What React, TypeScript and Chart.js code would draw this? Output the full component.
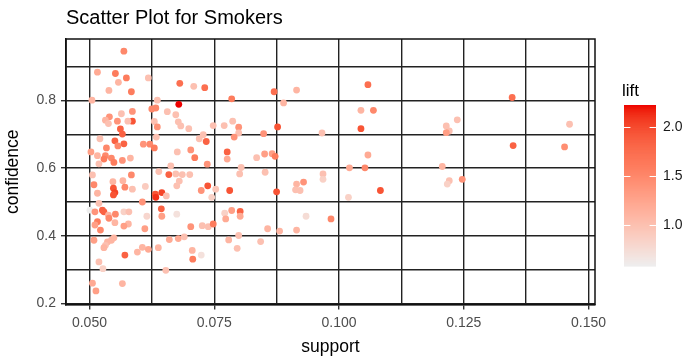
import React, { useEffect, useRef } from 'react';
import { Chart, registerables } from 'chart.js';

Chart.register(...registerables);

// ---- data ----
const SUPPORT: number[] = [
  0.1058, 0.1044, 0.1069, 0.1044, 0.1058, 0.1021, 0.1052, 0.1083, 0.1019, 0.0984,
  0.1237, 0.1215, 0.1221, 0.1215, 0.1207, 0.1221, 0.1217, 0.1247, 0.1347, 0.1349,
  0.1462, 0.1452, 0.0731, 0.0870, 0.0915, 0.0785, 0.0889, 0.0748, 0.0770, 0.0787,
  0.0799, 0.0799, 0.0790, 0.0728, 0.0734, 0.0849, 0.0877, 0.0966, 0.0776, 0.0776,
  0.0851, 0.0866, 0.0872, 0.0835, 0.0736, 0.0804, 0.0801, 0.0852, 0.0737, 0.0753,
  0.0724, 0.0745, 0.0781, 0.0875, 0.0915, 0.0929, 0.0913, 0.0922, 0.0968, 0.0968,
  0.0771, 0.0785, 0.0802, 0.0802, 0.0773, 0.0934, 0.0726, 0.0738, 0.0748, 0.0857,
  0.0881, 0.0915, 0.0779, 0.0799, 0.0843, 0.0796, 0.0724, 0.0720, 0.0618, 0.0681,
  0.0709, 0.0636, 0.0679, 0.0633, 0.0625, 0.0656, 0.0673, 0.0630, 0.0636, 0.0678,
  0.0683, 0.0699, 0.0634, 0.0608, 0.0621, 0.0630, 0.0676, 0.0703, 0.0711, 0.0639,
  0.0663, 0.0659, 0.0673, 0.0686, 0.0701, 0.0680, 0.0675, 0.0612, 0.0632, 0.0645,
  0.0633, 0.0654, 0.0606, 0.0644, 0.0645, 0.0675, 0.0615, 0.0703, 0.0611, 0.0660,
  0.0678, 0.0690, 0.0606, 0.0618, 0.0638, 0.0706, 0.0707, 0.0653, 0.0596, 0.0569,
  0.0516, 0.0552, 0.0574, 0.0558, 0.0539, 0.0584, 0.0505, 0.0586, 0.0564, 0.0540,
  0.0532, 0.0556, 0.0586, 0.0577, 0.0538, 0.0562, 0.0566, 0.0521, 0.0551, 0.0569,
  0.0557, 0.0503, 0.0534, 0.0532, 0.0516, 0.0529, 0.0544, 0.0582, 0.0566, 0.0519,
  0.0549, 0.0506, 0.0547, 0.0584, 0.0567, 0.0509, 0.0548, 0.0551, 0.0548, 0.0571,
  0.0586, 0.0516, 0.0519, 0.0501, 0.0526, 0.0529, 0.0511, 0.0538, 0.0552, 0.0569,
  0.0579, 0.0539, 0.0516, 0.0551, 0.0578, 0.0569, 0.0511, 0.0522, 0.0509, 0.0536,
  0.0544, 0.0549, 0.0532, 0.0529, 0.0571, 0.0519, 0.0527, 0.0566, 0.0506, 0.0513,
];

const CONFIDENCE: number[] = [
  0.847, 0.771, 0.771, 0.717, 0.639, 0.601, 0.601, 0.534, 0.514, 0.450,
  0.743, 0.725, 0.710, 0.705, 0.605, 0.563, 0.553, 0.567, 0.809, 0.667,
  0.730, 0.663, 0.838, 0.826, 0.831, 0.805, 0.793, 0.726, 0.726, 0.739,
  0.721, 0.704, 0.692, 0.699, 0.679, 0.702, 0.722, 0.704, 0.648, 0.627,
  0.642, 0.643, 0.635, 0.631, 0.612, 0.602, 0.583, 0.588, 0.548, 0.538,
  0.534, 0.514, 0.534, 0.530, 0.553, 0.559, 0.536, 0.534, 0.583, 0.567,
  0.467, 0.475, 0.472, 0.458, 0.450, 0.458, 0.430, 0.427, 0.435, 0.421,
  0.414, 0.417, 0.388, 0.401, 0.383, 0.363, 0.343, 0.687, 0.867, 0.851,
  0.842, 0.801, 0.789, 0.778, 0.775, 0.767, 0.758, 0.738, 0.722, 0.737,
  0.725, 0.717, 0.692, 0.671, 0.671, 0.660, 0.648, 0.654, 0.631, 0.590,
  0.607, 0.581, 0.583, 0.581, 0.581, 0.562, 0.548, 0.546, 0.523, 0.528,
  0.514, 0.518, 0.500, 0.480, 0.458, 0.464, 0.458, 0.427, 0.421, 0.389,
  0.392, 0.397, 0.366, 0.360, 0.365, 0.357, 0.331, 0.298, 0.352, 0.946,
  0.884, 0.880, 0.867, 0.854, 0.830, 0.826, 0.801, 0.768, 0.761, 0.752,
  0.742, 0.739, 0.739, 0.739, 0.732, 0.716, 0.701, 0.687, 0.681, 0.672,
  0.666, 0.648, 0.660, 0.637, 0.637, 0.627, 0.630, 0.630, 0.623, 0.613,
  0.617, 0.580, 0.560, 0.580, 0.563, 0.551, 0.541, 0.528, 0.521, 0.544,
  0.538, 0.526, 0.496, 0.476, 0.476, 0.471, 0.471, 0.461, 0.464, 0.471,
  0.471, 0.452, 0.442, 0.439, 0.435, 0.429, 0.432, 0.417, 0.387, 0.382,
  0.387, 0.394, 0.372, 0.365, 0.343, 0.323, 0.303, 0.259, 0.260, 0.237,
];

const LIFT: number[] = [
  1.7, 1.1, 1.5, 1.9, 1.2, 1.2, 1.5, 1.9, 0.85, 1.5,
  1.0, 1.0, 1.0, 1.3, 1.1, 1.0, 0.85, 1.4, 1.7, 1.8,
  1.0, 1.45, 1.7, 1.7, 1.1, 1.6, 1.1, 1.0, 1.0, 1.0,
  1.4, 1.0, 1.4, 1.0, 1.8, 1.4, 1.9, 1.0, 1.8, 1.2,
  1.3, 1.3, 1.6, 1.0, 1.4, 1.0, 1.0, 1.0, 1.9, 0.95,
  1.4, 0.85, 1.9, 1.9, 1.1, 1.4, 1.0, 1.0, 1.0, 0.85,
  0.85, 1.3, 1.8, 1.2, 1.2, 0.75, 1.0, 1.0, 1.6, 1.1,
  1.1, 1.1, 1.1, 1.0, 1.0, 1.0, 0.7, 1.0, 1.0, 1.7,
  1.0, 1.0, 2.224, 1.5, 1.5, 1.0, 1.0, 1.0, 1.4, 1.0,
  1.0, 1.0, 1.0, 1.4, 1.5, 1.6, 1.0, 1.4, 1.6, 1.0,
  1.0, 1.8, 1.0, 1.0, 1.0, 1.0, 1.0, 0.9, 1.9, 2.0,
  2.1, 1.0, 1.4, 1.8, 1.3, 0.7, 0.8, 1.4, 1.3, 1.2,
  1.2, 1.0, 1.1, 1.2, 1.1, 1.1, 1.6, 1.0, 1.1, 1.5,
  1.2, 1.6, 1.6, 1.1, 1.1, 1.6, 1.1, 1.4, 1.0, 1.4,
  1.1, 1.4, 1.9, 1.0, 1.0, 1.8, 1.8, 1.0, 1.8, 1.8,
  1.5, 1.3, 1.5, 1.5, 1.1, 1.6, 1.5, 1.1, 1.4, 1.0,
  1.6, 1.0, 1.1, 1.5, 1.1, 1.5, 1.9, 2.0, 1.9, 1.5,
  1.0, 1.1, 1.0, 0.582, 1.8, 1.8, 1.4, 1.1, 1.5, 0.85,
  1.0, 1.5, 1.6, 1.1, 1.1, 1.3, 1.3, 1.5, 1.3, 1.1,
  1.1, 1.1, 1.0, 1.1, 1.8, 1.0, 0.85, 1.1, 1.2, 1.3,
];

const X_TICKS: number[] = [0.05, 0.0625, 0.075, 0.0875, 0.1, 0.1125, 0.125, 0.1375, 0.15];
const X_LABELED: number[] = [0.05, 0.075, 0.1, 0.125, 0.15];
const Y_TICKS: number[] = [0.2, 0.3, 0.4, 0.5, 0.6, 0.7, 0.8, 0.9];
const Y_LABELED: number[] = [0.2, 0.4, 0.6, 0.8];
const LEGEND_TICKS: number[] = [1.0, 1.5, 2.0];
const X_RANGE: number[] = [0.0453, 0.1513];
const Y_RANGE: number[] = [0.197, 0.982];
const LOW_COLOR = '#EEEEEE';
const HIGH_COLOR = '#EE0000';

const TITLE = 'Scatter Plot for Smokers';
const X_TITLE = 'support';
const Y_TITLE = 'confidence';
const LEGEND_TITLE = 'lift';

const FONT = '"Liberation Sans", Arial, Helvetica, sans-serif';

// ---- colour helpers: gradient interpolated in CIE Lab (like ggplot2) ----
function hexToRgb(h: string): number[] {
  const s = h.replace('#', '');
  return [0, 2, 4].map((i) => parseInt(s.slice(i, i + 2), 16));
}
function toLin(c: number) {
  const v = c / 255;
  return v <= 0.04045 ? v / 12.92 : Math.pow((v + 0.055) / 1.055, 2.4);
}
function fromLin(c: number) {
  const v = c <= 0.0031308 ? 12.92 * c : 1.055 * Math.pow(c, 1 / 2.4) - 0.055;
  return Math.round(Math.max(0, Math.min(1, v)) * 255);
}
const WX = 0.95047, WY = 1.0, WZ = 1.08883;
function rgbToLab(rgb: number[]): number[] {
  const [r, g, b] = rgb.map(toLin);
  const X = (0.4124 * r + 0.3576 * g + 0.1805 * b) / WX;
  const Y = (0.2126 * r + 0.7152 * g + 0.0722 * b) / WY;
  const Z = (0.0193 * r + 0.1192 * g + 0.9505 * b) / WZ;
  const f = (t: number) => (t > 0.008856 ? Math.cbrt(t) : 7.787 * t + 16 / 116);
  const fx = f(X), fy = f(Y), fz = f(Z);
  return [116 * fy - 16, 500 * (fx - fy), 200 * (fy - fz)];
}
function labToRgb(lab: number[]): number[] {
  const [L, a, b] = lab;
  const fy = (L + 16) / 116;
  const fx = fy + a / 500;
  const fz = fy - b / 200;
  const inv = (t: number) => (t * t * t > 0.008856 ? t * t * t : (t - 16 / 116) / 7.787);
  const X = inv(fx) * WX, Y = inv(fy) * WY, Z = inv(fz) * WZ;
  const r = 3.2406 * X - 1.5372 * Y - 0.4986 * Z;
  const g = -0.9689 * X + 1.8758 * Y + 0.0415 * Z;
  const bb = 0.0557 * X - 0.204 * Y + 1.057 * Z;
  return [fromLin(r), fromLin(g), fromLin(bb)];
}
const LAB_LOW = rgbToLab(hexToRgb(LOW_COLOR));
const LAB_HIGH = rgbToLab(hexToRgb(HIGH_COLOR));
const LIFT_MIN = Math.min(...LIFT);
const LIFT_MAX = Math.max(...LIFT);
function liftColor(v: number): string {
  const t = Math.max(0, Math.min(1, (v - LIFT_MIN) / (LIFT_MAX - LIFT_MIN)));
  const lab = LAB_LOW.map((c, i) => c + (LAB_HIGH[i] - c) * t);
  const [r, g, b] = labToRgb(lab);
  return `rgb(${r},${g},${b})`;
}

const near = (arr: number[], v: number) => arr.some((a) => Math.abs(a - v) < 1e-9);

const panelPlugin = {
  id: 'panelAndColorbar',
  afterDraw(chart: any) {
    const { ctx, chartArea } = chart;
    ctx.save();
    // panel border
    ctx.strokeStyle = '#111';
    ctx.lineWidth = 1.5;
    ctx.strokeRect(chartArea.left, chartArea.top, chartArea.right - chartArea.left, chartArea.bottom - chartArea.top);

    // colour bar legend
    const bx = chartArea.right + 29;
    const bw = 32;
    const by = 105;
    const bh = 161;
    ctx.fillStyle = '#000';
    ctx.font = `17px ${FONT}`;
    ctx.textAlign = 'left';
    ctx.textBaseline = 'middle';
    ctx.fillText(LEGEND_TITLE, bx - 2, 91);
    const steps = 160;
    for (let i = 0; i < steps; i++) {
      const v = LIFT_MAX - ((i + 0.5) / steps) * (LIFT_MAX - LIFT_MIN);
      ctx.fillStyle = liftColor(v);
      ctx.fillRect(bx, by + (i * bh) / steps, bw, bh / steps + 0.6);
    }
    ctx.strokeStyle = '#fff';
    ctx.lineWidth = 1;
    ctx.font = `14px ${FONT}`;
    ctx.fillStyle = '#1a1a1a';
    for (const t of LEGEND_TICKS) {
      const y = by + ((LIFT_MAX - t) / (LIFT_MAX - LIFT_MIN)) * bh;
      const yy = Math.round(y) + 0.5;
      ctx.beginPath();
      ctx.moveTo(bx, yy);
      ctx.lineTo(bx + bw / 5, yy);
      ctx.moveTo(bx + bw - bw / 5, yy);
      ctx.lineTo(bx + bw, yy);
      ctx.stroke();
      ctx.fillText(t.toFixed(1), bx + bw + 7, y);
    }
    ctx.restore();
  },
};

export default function App() {
  const ref = useRef<HTMLCanvasElement | null>(null);
  useEffect(() => {
    document.body.style.margin = '0';
    const canvas = ref.current;
    if (!canvas) return;
    const points = SUPPORT.map((x, i) => ({ x, y: CONFIDENCE[i] }));
    const tickFont = { family: FONT, size: 14 };
    const titleFont = { family: FONT, size: 17.5 };
    const chart = new Chart(canvas, {
      type: 'scatter',
      data: {
        datasets: [
          {
            data: points,
            pointBackgroundColor: LIFT.map(liftColor),
            pointBorderWidth: 0,
            pointRadius: 3.4,
            pointHoverRadius: 3.4,
          },
        ],
      },
      options: {
        animation: false,
        responsive: false,
        maintainAspectRatio: false,
        events: [],
        layout: { padding: { left: 0, right: 97, top: 0, bottom: 0 } },
        plugins: {
          legend: { display: false },
          tooltip: { enabled: false },
          title: {
            display: true,
            text: TITLE,
            align: 'start',
            fullSize: false,
            color: '#000',
            font: { family: FONT, size: 20, weight: 'normal', lineHeight: 1.2 },
            padding: { top: 6, bottom: 9 },
          },
        },
        scales: {
          x: {
            type: 'linear',
            min: X_RANGE[0],
            max: X_RANGE[1],
            afterBuildTicks: (s: any) => {
              s.ticks = X_TICKS.map((v) => ({ value: v }));
            },
            afterFit: (s: any) => {
              s.height = 58.5;
            },
            ticks: {
              autoSkip: false,
              maxRotation: 0,
              padding: 5,
              color: '#4d4d4d',
              font: tickFont,
              callback: (v: any) => (near(X_LABELED, Number(v)) ? Number(v).toFixed(3) : ''),
            },
            grid: {
              color: '#222',
              lineWidth: 1.4,
              tickLength: 5,
              tickWidth: 1.4,
              tickColor: (c: any) => (c.tick && near(X_LABELED, c.tick.value) ? '#333' : 'rgba(0,0,0,0)'),
            },
            border: { display: true, color: '#111', width: 1.5 },
            title: {
              display: true,
              text: X_TITLE,
              color: '#000',
              font: titleFont,
              padding: { top: 0, bottom: 5 },
            },
          },
          y: {
            type: 'linear',
            min: Y_RANGE[0],
            max: Y_RANGE[1],
            afterBuildTicks: (s: any) => {
              s.ticks = Y_TICKS.map((v) => ({ value: v }));
            },
            afterFit: (s: any) => {
              s.width = 66;
            },
            ticks: {
              autoSkip: false,
              padding: 5,
              color: '#4d4d4d',
              font: tickFont,
              callback: (v: any) => (near(Y_LABELED, Number(v)) ? Number(v).toFixed(1) : ''),
            },
            grid: {
              color: '#222',
              lineWidth: 1.4,
              tickLength: 5,
              tickWidth: 1.4,
              tickColor: (c: any) => (c.tick && near(Y_LABELED, c.tick.value) ? '#333' : 'rgba(0,0,0,0)'),
            },
            border: { display: true, color: '#111', width: 1.5 },
            title: {
              display: true,
              text: Y_TITLE,
              color: '#000',
              font: titleFont,
              padding: { top: 3, bottom: 0 },
            },
          },
        },
      },
      plugins: [panelPlugin],
    } as any);
    return () => chart.destroy();
  }, []);
  return <canvas ref={ref} width={692} height={363} style={{ display: 'block' }} />;
}
